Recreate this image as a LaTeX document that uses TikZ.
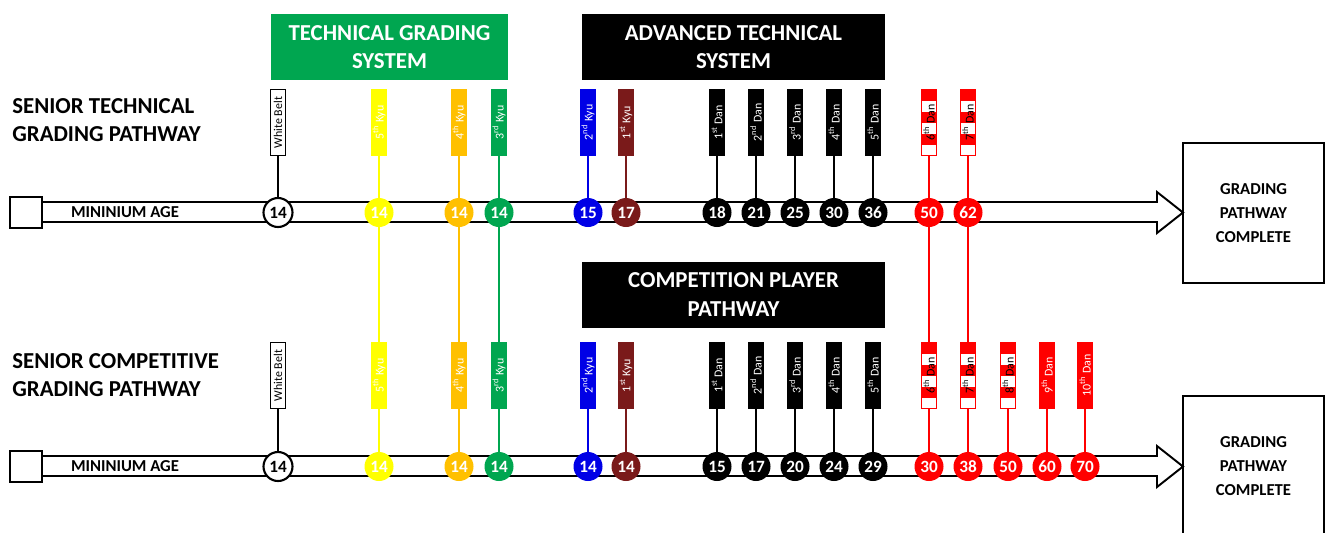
\documentclass[tikz,border=0pt]{standalone}
\usepackage{fontspec}
\setmainfont{Carlito}
\definecolor{kyuyellow}{HTML}{FFFF00}
\definecolor{kyuorange}{HTML}{FFC000}
\definecolor{kyugreen}{HTML}{00A650}
\definecolor{kyublue}{HTML}{0000E6}
\definecolor{kyumaroon}{HTML}{7A1A1A}
\definecolor{danred}{HTML}{FF0000}
\begin{document}
\begin{tikzpicture}[
		x=0.02cm, y=-0.02cm,
		faixa/.style={
			rectangle,
			minimum width=0.3cm,
			minimum height=1.32cm,
			inner sep=0pt,
			fill=#1,
			draw=#1,
			text=white,
			font=\fontsize{6.8}{7.5}\selectfont
		},
		faixabranca/.style={
			faixa=white,
			draw=black,
			line width=0.7pt,
			text=black
		},
		faixalistrada/.style={
			faixa=white,
			draw=danred,
			line width=0.5pt,
			text=black,
			path picture={
				\foreach \k in {0,2,4}
				\fill[danred] ([yshift=-\k*0.22cm]path picture bounding box.north west) rectangle ([yshift=-(\k+1)*0.22cm]path picture bounding box.north east);
			}
		},
		idade/.style={
			circle,
			minimum size=0.58cm,
			inner sep=0pt,
			fill=#1,
			text=white,
			font=\fontsize{9.8}{10}\selectfont\bfseries
		},
		idadebranca/.style={
			idade=white,
			draw=black,
			line width=1.2pt,
			text=black
		},
		linha/.style={line width=1pt, draw=#1},
		titulo/.style={
			rectangle,
			fill=#1,
			minimum height=1.32cm,
			text=white,
			align=center,
			font=\fontsize{13}{16}\selectfont\bfseries
		},
		rotulo/.style={
			anchor=west,
			inner sep=0pt,
			align=left,
			font=\fontsize{13}{16}\selectfont\bfseries
		},
		fim/.style={
			draw,
			rectangle,
			line width=1.1pt,
			minimum width=2.82cm,
			minimum height=2.8cm,
			align=center,
			font=\fontsize{9.5}{13.6}\selectfont\bfseries
		}
		]
		
		\useasboundingbox (0,0) rectangle (1331,532);
		
		%Setas
		\draw[line width=1.1pt] (10,197) rectangle (42,228);
		\draw[line width=1.1pt, line join=miter] (42,202) -- (1157,202) -- (1157,192) -- (1183,212.5) -- (1157,233) -- (1157,222) -- (42,222);
		\draw[line width=1.1pt] (10,451) rectangle (42,482);
		\draw[line width=1.1pt, line join=miter] (42,456) -- (1157,456) -- (1157,446) -- (1183,466.5) -- (1157,487) -- (1157,476) -- (42,476);
		
		\node[font=\fontsize{9.5}{10}\selectfont\bfseries] (idT) at (125,212.5) {MININIUM AGE};
		\node[font=\fontsize{9.5}{10}\selectfont\bfseries] (idB) at (125,466.5) {MININIUM AGE};
		
		\node[fim] (fimT) at (1253.5,213) {GRADING\\PATHWAY\\COMPLETE};
		\node[fim] (fimB) at (1253.5,466) {GRADING\\PATHWAY\\COMPLETE};
		
		%Titulos
		\node[titulo=kyugreen, minimum width=4.74cm] (tec) at (389.5,47) {TECHNICAL GRADING\\SYSTEM};
		\node[titulo=black, minimum width=6.06cm] (adv) at (733.5,47) {ADVANCED TECHNICAL\\SYSTEM};
		\node[titulo=black, minimum width=6.06cm] (comp) at (733.5,294.5) {COMPETITION PLAYER\\PATHWAY};
		\node[rotulo] (rotT) at (12,120) {SENIOR TECHNICAL\\GRADING PATHWAY};
		\node[rotulo] (rotB) at (12,375) {SENIOR COMPETITIVE\\GRADING PATHWAY};
		
		%Faixas - tecnico
		\node[faixabranca] (bT1) at (278,122.5) {\rotatebox{90}{White Belt}};
		\node[faixa=kyuyellow] (bT2) at (379,122.5) {\rotatebox{90}{5\textsuperscript{th} Kyu}};
		\node[faixa=kyuorange] (bT3) at (459,122.5) {\rotatebox{90}{4\textsuperscript{th} Kyu}};
		\node[faixa=kyugreen] (bT4) at (499,122.5) {\rotatebox{90}{3\textsuperscript{rd} Kyu}};
		\node[faixa=kyublue] (bT5) at (588,122.5) {\rotatebox{90}{2\textsuperscript{nd} Kyu}};
		\node[faixa=kyumaroon] (bT6) at (626,122.5) {\rotatebox{90}{1\textsuperscript{st} Kyu}};
		\node[faixa=black] (bT7) at (717,122.5) {\rotatebox{90}{1\textsuperscript{st} Dan}};
		\node[faixa=black] (bT8) at (756,122.5) {\rotatebox{90}{2\textsuperscript{nd} Dan}};
		\node[faixa=black] (bT9) at (795,122.5) {\rotatebox{90}{3\textsuperscript{rd} Dan}};
		\node[faixa=black] (bT10) at (834,122.5) {\rotatebox{90}{4\textsuperscript{th} Dan}};
		\node[faixa=black] (bT11) at (873,122.5) {\rotatebox{90}{5\textsuperscript{th} Dan}};
		\node[faixalistrada] (bT12) at (929,122.5) {\rotatebox{90}{6\textsuperscript{th} Dan}};
		\node[faixalistrada] (bT13) at (968,122.5) {\rotatebox{90}{7\textsuperscript{th} Dan}};
		
		\node[idadebranca] (aT1) at (278,212.5) {14};
		\node[idade=kyuyellow] (aT2) at (379,212.5) {14};
		\node[idade=kyuorange] (aT3) at (459,212.5) {14};
		\node[idade=kyugreen] (aT4) at (499,212.5) {14};
		\node[idade=kyublue] (aT5) at (588,212.5) {15};
		\node[idade=kyumaroon] (aT6) at (626,212.5) {17};
		\node[idade=black] (aT7) at (717,212.5) {18};
		\node[idade=black] (aT8) at (756,212.5) {21};
		\node[idade=black] (aT9) at (795,212.5) {25};
		\node[idade=black] (aT10) at (834,212.5) {30};
		\node[idade=black] (aT11) at (873,212.5) {36};
		\node[idade=danred] (aT12) at (929,212.5) {50};
		\node[idade=danred] (aT13) at (968,212.5) {62};
		
		%Faixas - competicao
		\node[faixabranca] (bB1) at (278,375.5) {\rotatebox{90}{White Belt}};
		\node[faixa=kyuyellow] (bB2) at (379,375.5) {\rotatebox{90}{5\textsuperscript{th} Kyu}};
		\node[faixa=kyuorange] (bB3) at (459,375.5) {\rotatebox{90}{4\textsuperscript{th} Kyu}};
		\node[faixa=kyugreen] (bB4) at (499,375.5) {\rotatebox{90}{3\textsuperscript{rd} Kyu}};
		\node[faixa=kyublue] (bB5) at (588,375.5) {\rotatebox{90}{2\textsuperscript{nd} Kyu}};
		\node[faixa=kyumaroon] (bB6) at (626,375.5) {\rotatebox{90}{1\textsuperscript{st} Kyu}};
		\node[faixa=black] (bB7) at (717,375.5) {\rotatebox{90}{1\textsuperscript{st} Dan}};
		\node[faixa=black] (bB8) at (756,375.5) {\rotatebox{90}{2\textsuperscript{nd} Dan}};
		\node[faixa=black] (bB9) at (795,375.5) {\rotatebox{90}{3\textsuperscript{rd} Dan}};
		\node[faixa=black] (bB10) at (834,375.5) {\rotatebox{90}{4\textsuperscript{th} Dan}};
		\node[faixa=black] (bB11) at (873,375.5) {\rotatebox{90}{5\textsuperscript{th} Dan}};
		\node[faixalistrada] (bB12) at (929,375.5) {\rotatebox{90}{6\textsuperscript{th} Dan}};
		\node[faixalistrada] (bB13) at (968,375.5) {\rotatebox{90}{7\textsuperscript{th} Dan}};
		\node[faixalistrada] (bB14) at (1008,375.5) {\rotatebox{90}{8\textsuperscript{th} Dan}};
		\node[faixa=danred] (bB15) at (1047,375.5) {\rotatebox{90}{9\textsuperscript{th} Dan}};
		\node[faixa=danred] (bB16) at (1085,375.5) {\rotatebox{90}{10\textsuperscript{th} Dan}};
		
		\node[idadebranca] (aB1) at (278,466.5) {14};
		\node[idade=kyuyellow] (aB2) at (379,466.5) {14};
		\node[idade=kyuorange] (aB3) at (459,466.5) {14};
		\node[idade=kyugreen] (aB4) at (499,466.5) {14};
		\node[idade=kyublue] (aB5) at (588,466.5) {14};
		\node[idade=kyumaroon] (aB6) at (626,466.5) {14};
		\node[idade=black] (aB7) at (717,466.5) {15};
		\node[idade=black] (aB8) at (756,466.5) {17};
		\node[idade=black] (aB9) at (795,466.5) {20};
		\node[idade=black] (aB10) at (834,466.5) {24};
		\node[idade=black] (aB11) at (873,466.5) {29};
		\node[idade=danred] (aB12) at (929,466.5) {30};
		\node[idade=danred] (aB13) at (968,466.5) {38};
		\node[idade=danred] (aB14) at (1008,466.5) {50};
		\node[idade=danred] (aB15) at (1047,466.5) {60};
		\node[idade=danred] (aB16) at (1085,466.5) {70};
		
		%Linhas
		\draw[linha=black] (bT1) -- (aT1);
		\draw[linha=black] (bB1) -- (aB1);
		\draw[linha=kyuyellow] (bT2) -- (aT2) -- (bB2) -- (aB2);
		\draw[linha=kyuorange] (bT3) -- (aT3) -- (bB3) -- (aB3);
		\draw[linha=kyugreen] (bT4) -- (aT4) -- (bB4) -- (aB4);
		\draw[linha=kyublue] (bT5) -- (aT5);
		\draw[linha=kyublue] (bB5) -- (aB5);
		\draw[linha=kyumaroon] (bT6) -- (aT6);
		\draw[linha=kyumaroon] (bB6) -- (aB6);
		\draw[linha=black] (bT7) -- (aT7);
		\draw[linha=black] (bT8) -- (aT8);
		\draw[linha=black] (bT9) -- (aT9);
		\draw[linha=black] (bT10) -- (aT10);
		\draw[linha=black] (bT11) -- (aT11);
		\draw[linha=black] (bB7) -- (aB7);
		\draw[linha=black] (bB8) -- (aB8);
		\draw[linha=black] (bB9) -- (aB9);
		\draw[linha=black] (bB10) -- (aB10);
		\draw[linha=black] (bB11) -- (aB11);
		\draw[linha=danred] (bT12) -- (aT12) -- (bB12) -- (aB12);
		\draw[linha=danred] (bT13) -- (aT13) -- (bB13) -- (aB13);
		\draw[linha=danred] (bB14) -- (aB14);
		\draw[linha=danred] (bB15) -- (aB15);
		\draw[linha=danred] (bB16) -- (aB16);
		
	\end{tikzpicture}
\end{document}
